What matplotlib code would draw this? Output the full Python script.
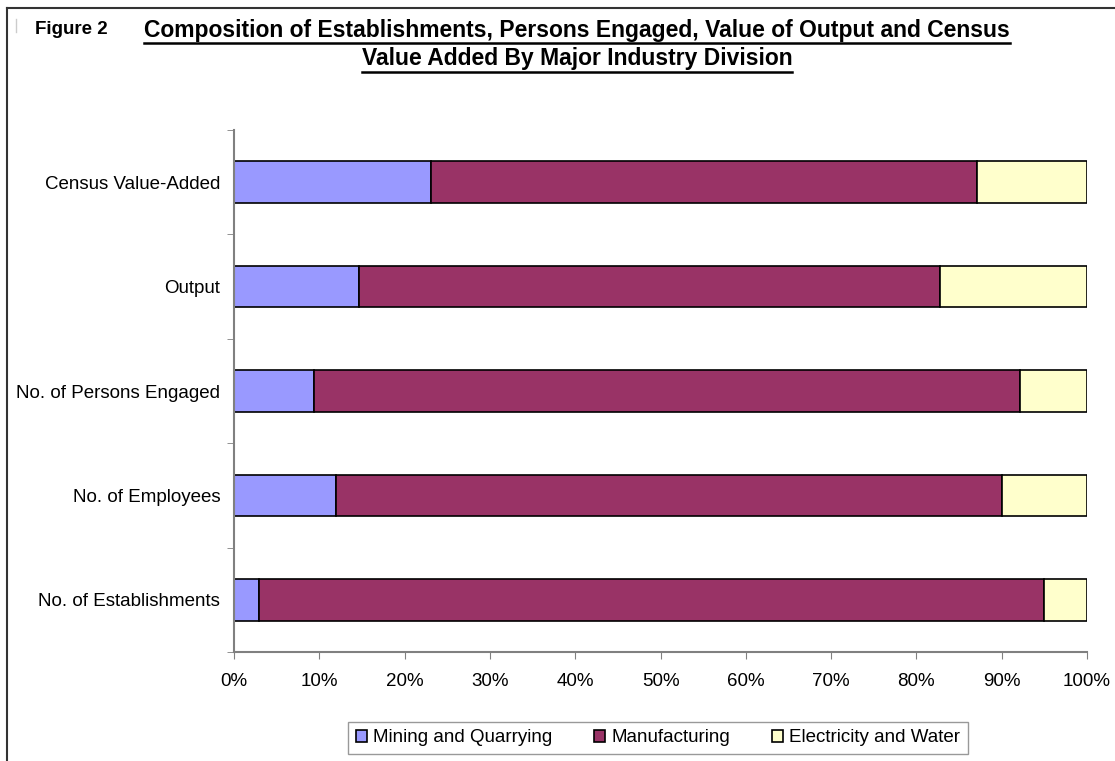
import matplotlib
matplotlib.use("Agg")
from matplotlib import pyplot as plt
from matplotlib.lines import Line2D
import numpy as np

plt.rcParams['font.family'] = ['Liberation Sans', 'DejaVu Sans']

# Data (percent shares)
categories = ['No. of Establishments', 'No. of Employees', 'No. of Persons Engaged',
              'Output', 'Census Value-Added']
mining = [2.9, 11.9, 9.4, 14.6, 23.1]
manufacturing = [92.1, 78.1, 82.8, 68.2, 64.0]
electricity = [5.0, 10.0, 7.8, 17.2, 12.9]
series_names = ['Mining and Quarrying', 'Manufacturing', 'Electricity and Water']
colors = ['#9999FF', '#993366', '#FFFFCC']

fig = plt.figure(figsize=(11.15, 7.61), dpi=100)
ax = fig.add_axes([0.2099, 0.1432, 0.765, 0.686])

y = np.arange(len(categories))
left = np.zeros(len(categories))
for vals, name, col in zip([mining, manufacturing, electricity], series_names, colors):
    ax.barh(y, vals, left=left, height=0.4, color=col, edgecolor='black',
            linewidth=1.2, label=name)
    left = left + np.array(vals)

ax.set_xlim(0, 100)
ax.set_ylim(-0.5, len(categories) - 0.5)
ax.set_xticks(np.arange(0, 101, 10))
ax.set_xticklabels([f'{v}%' for v in range(0, 101, 10)], fontsize=13.5)
ax.set_yticks(y)
ax.set_yticklabels(categories, fontsize=13.5)
ax.tick_params(axis='y', which='major', length=0, pad=10)
ax.set_yticks(np.arange(-0.5, len(categories), 1), minor=True)
ax.tick_params(axis='y', which='minor', length=5, color='#808080')
ax.tick_params(axis='x', length=5, color='#808080', pad=10)
for s in ['top', 'right']:
    ax.spines[s].set_visible(False)
for s in ['left', 'bottom']:
    ax.spines[s].set_color('#808080')
    ax.spines[s].set_linewidth(1.5)

leg = ax.legend(loc='center', bbox_to_anchor=(658 / 1115, 1 - 738 / 761),
                bbox_transform=fig.transFigure, ncol=3, fontsize=13.5, frameon=True,
                fancybox=False, edgecolor='#808080', handlelength=0.6, handleheight=0.6,
                handletextpad=0.35, columnspacing=2.2, borderpad=0.4)
leg.get_frame().set_linewidth(1.0)

# Title
fig.text(35 / 1115, 1 - 30 / 761, 'Figure 2', fontsize=13.5, fontweight='bold', va='center')
t1 = fig.text(577 / 1115, 1 - 30 / 761,
              'Composition of Establishments, Persons Engaged, Value of Output and Census',
              fontsize=16.5, fontweight='bold', ha='center', va='center')
t2 = fig.text(577 / 1115, 1 - 59 / 761, 'Value Added By Major Industry Division',
              fontsize=16.5, fontweight='bold', ha='center', va='center')

# chart border
fig.add_artist(Line2D([7 / 1115, 1], [1 - 8 / 761] * 2, color='#333333', lw=1.5))
fig.add_artist(Line2D([7 / 1115] * 2, [0, 1 - 8 / 761], color='#333333', lw=1.5))
fig.add_artist(Line2D([16 / 1115] * 2, [1 - 19 / 761, 1 - 32 / 761], color='#cccccc', lw=1))

fig.canvas.draw()
r = fig.canvas.get_renderer()
for t in [t1, t2]:
    bb = t.get_window_extent(r).transformed(fig.transFigure.inverted())
    fig.add_artist(Line2D([bb.x0, bb.x1], [bb.y0 - 0.002] * 2, color='black', lw=1.8))

fig.savefig('out.png', dpi=100)
